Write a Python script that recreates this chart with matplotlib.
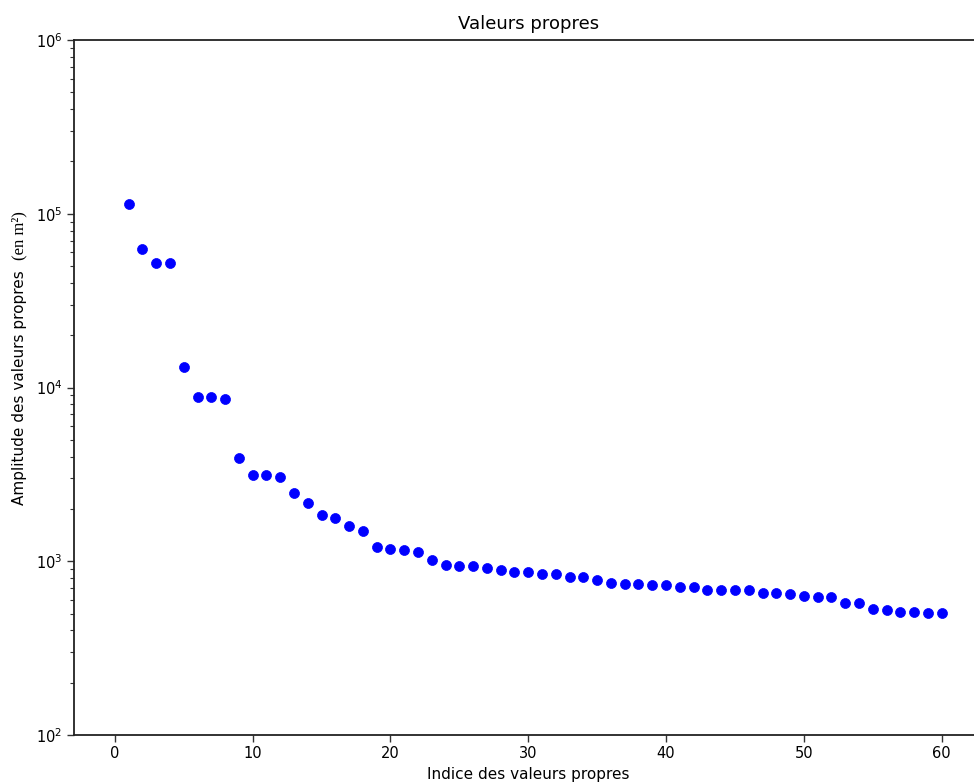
import matplotlib
matplotlib.use("Agg")
import matplotlib.pyplot as plt

# Eigenvalue index and amplitude (m²)
indices = list(range(1, 61))
eigenvalues = [
    113600, 62500, 52400, 52400, 13110, 8870, 8760, 8610, 3925, 3122,
    3122, 3048, 2465, 2159, 1834, 1777, 1591, 1489, 1204, 1180,
    1157, 1127, 1023, 957, 945, 945, 911, 896, 872, 872,
    845, 845, 809, 809, 784, 750, 740, 740, 734, 734,
    713, 713, 687, 687, 687, 687, 657, 657, 648, 628,
    620, 620, 575, 575, 534, 527, 510, 510, 504, 504,
]
xticks = [0, 10, 20, 30, 40, 50, 60]

plt.rcParams["font.family"] = ["DejaVu Sans"]

W, H = 974, 783
fig = plt.figure(figsize=(W / 100, H / 100), dpi=100)
left, right, top, bottom = 73.5, 983, 40, 735
ax = fig.add_axes([left / W, (H - bottom) / H, (right - left) / W, (bottom - top) / H])

ax.plot(indices, eigenvalues, "o", color="#0000ff", markersize=7.2,
        markeredgewidth=0.5, markeredgecolor="#0000ff")

ax.set_yscale("log")
ax.set_ylim(1e2, 1e6)
ax.set_xlim(-3.0, 63.0)
ax.set_xticks(xticks)

ax.set_title("Valeurs propres", fontsize=13, pad=8)
ax.set_xlabel("Indice des valeurs propres", fontsize=11, labelpad=4)
ax.set_ylabel("Amplitude des valeurs propres", fontsize=11, labelpad=6)

for s in ax.spines.values():
    s.set_linewidth(1.3)
    s.set_color("#222222")

ax.tick_params(axis="both", which="major", labelsize=10.5, length=5, width=1.0,
               color="#333333", pad=3)
ax.tick_params(axis="y", which="minor", length=3, width=0.8, color="#333333")

# Unit annotation in a serif face, continuing the y label upwards
unit = fig.text(18 / W, 1 - 236 / H, "(en m\u00b2)", rotation=90,
                ha="center", va="center", fontsize=12,
                family=["Liberation Serif", "DejaVu Serif"])

# Align the unit text horizontally with the y label
fig.canvas.draw()
bb = ax.yaxis.label.get_window_extent()
unit.set_x((bb.x0 + bb.x1) / 2 / W)

fig.savefig("out.png", dpi=100)
